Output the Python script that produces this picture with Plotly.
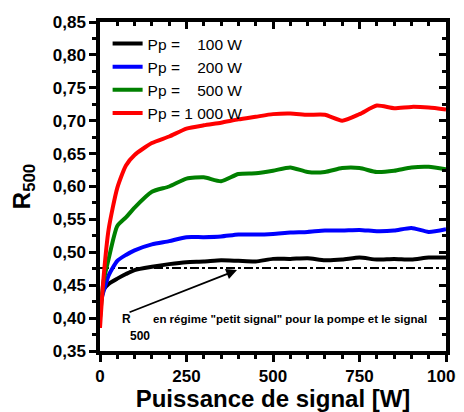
import plotly.graph_objects as go

power = [0, 10, 25, 50, 75, 100, 150, 200, 250, 300, 350, 400, 450, 500,
         550, 600, 650, 700, 750, 800, 850, 900, 950, 1000]

r_100 = [0.415, 0.443, 0.452, 0.460, 0.467, 0.473, 0.478, 0.482, 0.485, 0.486,
         0.488, 0.487, 0.486, 0.490, 0.490, 0.491, 0.488, 0.489, 0.492, 0.489,
         0.490, 0.489, 0.492, 0.492]
r_200 = [0.420, 0.440, 0.465, 0.487, 0.496, 0.503, 0.512, 0.517, 0.523, 0.523,
         0.524, 0.527, 0.527, 0.528, 0.530, 0.531, 0.533, 0.533, 0.534, 0.532,
         0.533, 0.537, 0.531, 0.535]
r_500 = [0.400, 0.455, 0.490, 0.540, 0.553, 0.568, 0.592, 0.600, 0.612, 0.614,
         0.608, 0.619, 0.620, 0.624, 0.629, 0.622, 0.622, 0.628, 0.628, 0.622,
         0.624, 0.629, 0.630, 0.626]
r_1000 = [0.385, 0.460, 0.535, 0.598, 0.632, 0.648, 0.666, 0.676, 0.688, 0.693,
          0.697, 0.702, 0.706, 0.710, 0.711, 0.709, 0.709, 0.700, 0.710, 0.723,
          0.719, 0.721, 0.720, 0.717]

small_signal = 0.476
small_x = [0, 1000]

names = ["Pp =\u00a0\u00a0\u00a0\u00a0100 W", "Pp =\u00a0\u00a0\u00a0\u00a0200 W",
         "Pp =\u00a0\u00a0\u00a0\u00a0500 W", "Pp = 1\u00a0000 W"]
colors = ["#000000", "#0000ff", "#008000", "#ff0000"]
series = [r_100, r_200, r_500, r_1000]

y_ticks = [0.35, 0.40, 0.45, 0.50, 0.55, 0.60, 0.65, 0.70, 0.75, 0.80, 0.85]
x_ticks = [0, 250, 500, 750, 1000]

fig = go.Figure()

fig.add_trace(go.Scatter(x=small_x, y=[small_signal, small_signal], mode="lines",
                         line=dict(color="black", width=2, dash="dashdot"),
                         showlegend=False, hoverinfo="skip"))

for n, c, s in zip(names, colors, series):
    fig.add_trace(go.Scatter(x=power, y=s, mode="lines", name=n,
                             line=dict(color=c, width=4, shape="spline", smoothing=0.6)))

tickfont = dict(family="Liberation Sans, Arial", size=17, color="black", weight="bold")
common = dict(showline=True, linewidth=3.5, linecolor="black", showgrid=False,
              zeroline=False, automargin=False, tickcolor="black")

fig.update_layout(
    width=456, height=404,
    margin=dict(l=92, r=18, t=14, b=61),
    paper_bgcolor="white", plot_bgcolor="white",
    separators=", ",
    font=dict(family="Liberation Sans, Arial", color="black"),
    xaxis=dict(range=[0, 1000], tickvals=x_ticks, ticks="outside", ticklen=7, tickwidth=3,
               tickfont=tickfont, ticklabeloverflow="allow",
               minor=dict(dtick=50, ticks="outside", ticklen=4, tickwidth=3, tickcolor="black"),
               title=dict(text="Puissance de signal [W]",
                          font=dict(size=24, weight="bold"), standoff=2), **common),
    yaxis=dict(range=[0.35, 0.85], tickvals=y_ticks, tickformat=".2f", ticks="outside",
               ticklen=7, tickwidth=3, tickfont=tickfont, ticklabeloverflow="allow",
               minor=dict(dtick=0.025, ticks="outside", ticklen=4, tickwidth=3, tickcolor="black"),
               title=dict(text="R<sub>500</sub>", font=dict(size=24, weight="bold"), standoff=18),
               **common),
    xaxis2=dict(range=[0, 1000], overlaying="x", side="top", anchor="y", tickvals=x_ticks,
                ticks="inside", ticklen=7, tickwidth=3, showticklabels=False,
                minor=dict(dtick=50, ticks="inside", ticklen=4, tickwidth=3, tickcolor="black"),
                **common),
    yaxis2=dict(range=[0.35, 0.85], overlaying="y", side="right", anchor="x", tickvals=y_ticks,
                ticks="inside", ticklen=7, tickwidth=3, showticklabels=False,
                minor=dict(dtick=0.025, ticks="inside", ticklen=4, tickwidth=3, tickcolor="black"),
                **common),
    legend=dict(x=0.022, y=0.985, xanchor="left", yanchor="top", bgcolor="rgba(0,0,0,0)",
                font=dict(size=15.5, color="black"), tracegroupgap=0, itemwidth=30),
    showlegend=True,
)

fig.add_trace(go.Scatter(x=[None], y=[None], xaxis="x2", yaxis="y2", showlegend=False,
                         hoverinfo="skip"))

fig.add_annotation(x=396, y=0.473, ax=81, ay=0.408, xref="x", yref="y", axref="x", ayref="y",
                   text="", showarrow=True, arrowhead=2, arrowsize=1.2, arrowwidth=1.8,
                   arrowcolor="black")
fig.add_annotation(x=78, y=0.398, xref="x", yref="y", text="R", showarrow=False,
                   xanchor="center", yanchor="middle",
                   font=dict(size=12, color="black", weight="bold"))
fig.add_annotation(x=116, y=0.373, xref="x", yref="y", text="500", showarrow=False,
                   xanchor="center", yanchor="middle",
                   font=dict(size=12, color="black", weight="bold"))
fig.add_annotation(x=146, y=0.398, xref="x", yref="y",
                   text="en régime \"petit signal\" pour la pompe et le signal",
                   showarrow=False, xanchor="left", yanchor="middle",
                   font=dict(size=11.5, color="black", weight="bold"))

fig.write_html("out.html")
